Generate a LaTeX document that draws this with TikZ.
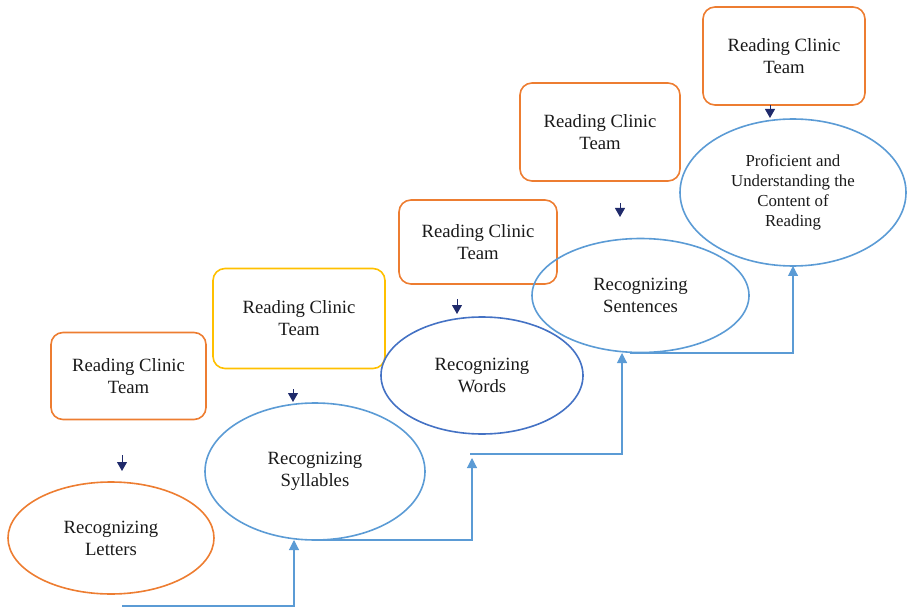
\documentclass[tikz,border=0pt]{standalone}
\usepackage{fontspec}
\setmainfont{Liberation Serif}
\usetikzlibrary{shapes.geometric,arrows.meta}
\definecolor{corange}{HTML}{ED7D31}
\definecolor{cyellow}{HTML}{FFC000}
\definecolor{cblue}{HTML}{5B9BD5}
\definecolor{cdblue}{HTML}{4472C4}
\definecolor{cnavy}{HTML}{1F2A6B}
\definecolor{ctext}{HTML}{1A1A1A}
\tikzset{
  teambox/.style={draw=corange, line width=1.6pt, rounded corners=12pt, align=center, inner sep=0pt, text=ctext, font=\fontsize{18.7}{22}\selectfont},
  stage/.style={ellipse, draw=cblue, line width=1.6pt, align=center, inner sep=0pt, text=ctext, font=\fontsize{18.7}{22}\selectfont},
  navyarrow/.style={draw=cnavy, line width=1pt, -{Triangle[length=9pt,width=10pt]}},
  link/.style={draw=cblue, line width=1.1pt, -{Triangle[length=10pt,width=10pt]}}
}
\begin{document}
\begin{tikzpicture}[x=1pt,y=-1pt]
\useasboundingbox (0,0) rectangle (907,612);
% team boxes
\node[teambox, minimum width=155pt, minimum height=87pt] (t1) at (128.5,376) {Reading Clinic\\Team};
\node[teambox, draw=cyellow, minimum width=172pt, minimum height=100pt] (t2) at (299,318.5) {Reading Clinic\\Team};
\node[teambox, minimum width=158pt, minimum height=84pt] (t3) at (478,242) {Reading Clinic\\Team};
\node[teambox, minimum width=160pt, minimum height=98pt] (t4) at (600,132) {Reading Clinic\\Team};
\node[teambox, minimum width=162pt, minimum height=98pt] (t5) at (784,56) {Reading Clinic\\Team};
% stages
\node[stage, draw=corange, minimum width=206pt, minimum height=112pt] (s1) at (111,538) {Recognizing\\Letters};
\node[stage, minimum width=220pt, minimum height=137pt] (s2) at (315,471.5) {Recognizing\\Syllables};
\node[stage, draw=cdblue, minimum width=202pt, minimum height=117pt] (s3) at (482,375.5) {Recognizing\\Words};
\node[stage, minimum width=217pt, minimum height=114pt] (s4) at (640.5,295.5) {Recognizing\\Sentences};
\node[stage, minimum width=226pt, minimum height=147pt, font=\fontsize{16.8}{20}\selectfont] (s5) at (793,192.5) {Proficient and\\Understanding the\\Content of\\Reading};
% small navy arrows
\coordinate (a1s) at (122,455); \coordinate (a1e) at (122,471);
\coordinate (a2s) at (293,389); \coordinate (a2e) at (293,402);
\coordinate (a3s) at (457,299); \coordinate (a3e) at (457,314);
\coordinate (a4s) at (620,203); \coordinate (a4e) at (620,217);
\coordinate (a5s) at (770,105); \coordinate (a5e) at (770,118);
\draw[navyarrow] (a1s) -- (a1e);
\draw[navyarrow] (a2s) -- (a2e);
\draw[navyarrow] (a3s) -- (a3e);
\draw[navyarrow] (a4s) -- (a4e);
\draw[navyarrow] (a5s) -- (a5e);
% step connectors
\coordinate (c1) at (122,606);
\coordinate (c1e) at (294,540);
\coordinate (c2) at (315,540);
\coordinate (c2e) at (472,458);
\coordinate (c3) at (470,454);
\coordinate (c3e) at (622,353);
\coordinate (c4) at (630,353);
\coordinate (c4e) at (793,266);
\draw[link] (c1) -| (c1e);
\draw[link] (c2) -| (c2e);
\draw[link] (c3) -| (c3e);
\draw[link] (c4) -| (c4e);
\end{tikzpicture}
\end{document}
